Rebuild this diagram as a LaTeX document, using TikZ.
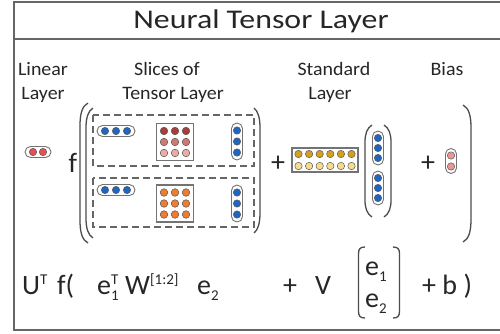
\documentclass[tikz,border=0pt]{standalone}
\usepackage{fontspec}
\setmainfont{Carlito}
\usepackage{graphicx}
\definecolor{dotblue}{RGB}{31,102,194}
\definecolor{linred}{RGB}{230,80,80}
\definecolor{mrA}{RGB}{168,62,60}
\definecolor{mrB}{RGB}{205,122,116}
\definecolor{mrC}{RGB}{233,172,166}
\definecolor{morange}{RGB}{237,125,49}
\definecolor{sgold}{RGB}{212,160,32}
\definecolor{slight}{RGB}{246,220,145}
\definecolor{bpink}{RGB}{236,150,148}
\newcommand\myup[1]{\raisebox{9.5pt}{\fontsize{15}{15}\selectfont #1}}
\newcommand\mydown[1]{\raisebox{-6pt}{\fontsize{15}{15}\selectfont #1}}
\begin{document}
\begin{tikzpicture}[x=1pt,y=-1pt,
  frameline/.style={draw=black!60, line width=1.5pt},
  capsule/.style={draw=black!55, line width=0.9pt, fill=white},
  dotc/.style={draw=black!65, line width=0.5pt},
  mbox/.style={draw=black!55, line width=1.2pt, fill=white},
  dashbox/.style={draw=black!60, dash pattern=on 7pt off 4pt, line width=1.1pt},
  paren/.style={draw=black!70, line width=1.3pt},
  titlef/.style={inner sep=0pt, text=black!85, font=\fontsize{27}{32}\selectfont},
  lab/.style={inner sep=0pt, text=black!85, anchor=base, font=\fontsize{19}{22}\selectfont},
  fml/.style={inner sep=0pt, text=black!85, font=\fontsize{28}{32}\selectfont}]
\useasboundingbox (0,0) rectangle (500,333);
% frame
\draw[frameline] (500,2) -- (14,2) -- (14,330) -- (500,330);
\draw[frameline] (14,39) -- (500,39);
% title and labels
\node[titlef] (title) at (261,21) {\scalebox{1.18}[1]{Neural Tensor Layer}};
\node[lab] (linA) at (43,75) {\scalebox{1.05}[1]{Linear}};
\node[lab] (linB) at (43,99) {\scalebox{1.05}[1]{Layer}};
\node[lab] (slA) at (167,75) {\scalebox{1.05}[1]{Slices of}};
\node[lab] (slB) at (173,99) {\scalebox{1.05}[1]{Tensor Layer}};
\node[lab] (stA) at (334,75) {\scalebox{1.05}[1]{Standard}};
\node[lab] (stB) at (330,99) {\scalebox{1.05}[1]{Layer}};
\node[lab] (bias) at (447,75) {\scalebox{1.05}[1]{Bias}};
% linear layer
\draw[capsule, rounded corners=5.5pt] (25,146.5) rectangle (51,157.5);
\foreach \x in {33,43} \draw[dotc, fill=linred] (\x,152) circle (3.7);
\node[fml, anchor=base] (bigf) at (73,172) {f};
% parens
\draw[paren] (88,103) .. controls (82,106) and (80,114) .. (80,126) -- (80,220) .. controls (80,232) and (82,240) .. (88,243);
\draw[paren] (93,108) .. controls (88,111) and (86,118) .. (86,128) -- (86,218) .. controls (86,228) and (88,235) .. (93,238);
\draw[paren] (254,108) .. controls (258,111) and (260,118) .. (260,128) -- (260,213) .. controls (260,223) and (258,230) .. (254,233);
\draw[paren] (463,105) .. controls (469,108) and (471,116) .. (471,128) -- (471,219) .. controls (471,231) and (469,239) .. (463,242);
% dashed slices
\draw[dashbox] (93,115) rectangle (254,166);
\draw[dashbox] (93,178) rectangle (254,227);
% upper slice
\draw[capsule, rounded corners=5.5pt] (97,125.5) rectangle (135,136.5);
\foreach \x in {105,116,127} \draw[dotc, fill=dotblue] (\x,131) circle (3.7);
\draw[mbox] (156.5,123.5) rectangle (193.5,160.5);
\foreach \x in {164,175,186} {
  \draw[dotc, fill=mrA] (\x,131) circle (3.8);
  \draw[dotc, fill=mrB] (\x,142) circle (3.8);
  \draw[dotc, fill=mrC] (\x,153) circle (3.8);
}
\draw[capsule, rounded corners=5.5pt] (231.5,123) rectangle (242.5,160);
\foreach \y in {130.5,141.5,152.5} \draw[dotc, fill=dotblue] (237,\y) circle (3.7);
% lower slice
\draw[capsule, rounded corners=5.5pt] (97,184.5) rectangle (135,195.5);
\foreach \x in {105,116,127} \draw[dotc, fill=dotblue] (\x,190) circle (3.7);
\draw[mbox] (156.5,185) rectangle (193.5,222);
\foreach \x in {164,175,186} \foreach \y in {192.5,203.5,214.5}
  \draw[dotc, fill=morange] (\x,\y) circle (3.8);
\draw[capsule, rounded corners=5.5pt] (231.5,185) rectangle (242.5,222);
\foreach \y in {192.5,203.5,214.5} \draw[dotc, fill=dotblue] (237,\y) circle (3.7);
% standard layer
\node[fml, anchor=base] (plusA) at (278,171) {+};
\draw[mbox] (292,148) rectangle (358,172);
\foreach \i in {0,...,5} {
  \draw[dotc, fill=sgold] (298.5+10.6*\i,154) circle (3.7);
  \draw[dotc, fill=slight] (298.5+10.6*\i,166) circle (3.7);
}
\draw[paren] (372,125) .. controls (367,128) and (365,134) .. (365,142) -- (365,200) .. controls (365,208) and (367,214) .. (372,217);
\draw[paren] (384,125) .. controls (389,128) and (391,134) .. (391,142) -- (391,200) .. controls (391,208) and (389,214) .. (384,217);
\draw[capsule, rounded corners=5.5pt] (372.5,131) rectangle (383.5,165);
\foreach \y in {138,148,158} \draw[dotc, fill=dotblue] (378,\y) circle (3.7);
\draw[capsule, rounded corners=5.5pt] (372.5,171) rectangle (383.5,205);
\foreach \y in {178,188,198} \draw[dotc, fill=dotblue] (378,\y) circle (3.7);
% bias
\node[fml, anchor=base] (plusB) at (428,171) {+};
\draw[capsule, rounded corners=5.5pt] (445.5,148.5) rectangle (456.5,173.5);
\foreach \y in {155.5,166.5} \draw[dotc, fill=bpink] (451,\y) circle (3.7);
% formula
\node[fml, anchor=base west] (fU) at (22,294) {U\myup{T}};
\node[fml, anchor=base west] (ff) at (57,294) {f(};
\node[fml, anchor=base west] (fe1) at (97,294) {e\rlap{\mydown{1}}\myup{T}};
\node[fml, anchor=base west] (fW) at (125,294) {W\myup{[1:2]}};
\node[fml, anchor=base west] (fe2) at (197,294) {e\mydown{2}};
\node[fml, anchor=base west] (fplus) at (283,294) {+};
\node[fml, anchor=base west] (fV) at (315,294) {V};
\node[fml, anchor=base west] (fv1) at (365,275) {e\mydown{1}};
\node[fml, anchor=base west] (fv2) at (365,307) {e\mydown{2}};
\node[fml, anchor=base west] (fb) at (422,294) {+ b )};
\draw[paren] (365,247) .. controls (360,247) and (358.5,249) .. (358.5,254) -- (358.5,311) .. controls (358.5,316) and (360,318) .. (365,318);
\draw[paren] (393,247) .. controls (398,247) and (399.5,249) .. (399.5,254) -- (399.5,311) .. controls (399.5,316) and (398,318) .. (393,318);
\end{tikzpicture}
\end{document}
